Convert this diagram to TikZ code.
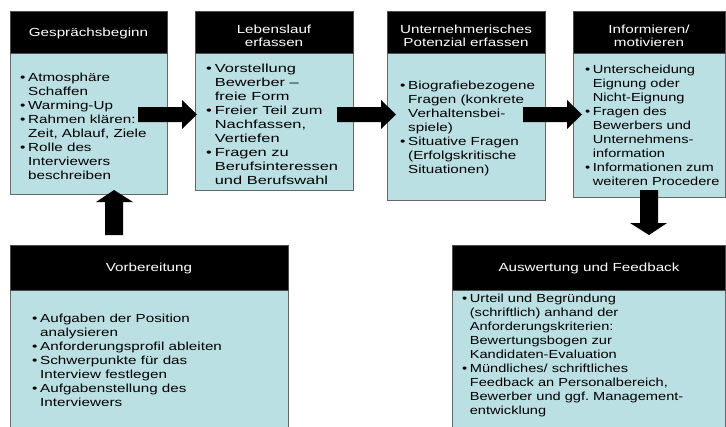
\documentclass[tikz,border=0pt]{standalone}
\usepackage{fontspec}
\setmainfont{Liberation Sans}[FakeStretch=1.3]
\definecolor{bodyblue}{RGB}{187,224,227}
\newcommand{\bl}{\makebox[8pt][l]{•}}
\newcommand{\ind}{\hspace*{8pt}}
\begin{document}
\begin{tikzpicture}[x=1pt,y=-1pt,
  headbox/.style={fill=black,draw=black!70,line width=0.6pt},
  bodybox/.style={fill=bodyblue,draw=black!60,line width=0.7pt},
  headtext/.style={text=white,align=center,font=\fontsize{11.7}{12.7}\selectfont,inner sep=0pt},
  bodytext/.style={align=left,anchor=west,font=\fontsize{11.7}{14}\selectfont,inner sep=0pt},
  blockarrow/.style={fill=black}]
\clip (0,0) rectangle (726,426);
\fill[white] (0,0) rectangle (726,426);
% top row boxes
\draw[bodybox] (10,53) rectangle (167,194);
\draw[headbox] (10,11) rectangle (167,53);
\draw[bodybox] (195,53) rectangle (353,190);
\draw[headbox] (195,11) rectangle (353,53);
\draw[bodybox] (387,53) rectangle (545,200);
\draw[headbox] (387,11) rectangle (545,53);
\draw[bodybox] (573,53) rectangle (725,197);
\draw[headbox] (573,11) rectangle (725,53);
% bottom boxes
\draw[bodybox] (10,290) rectangle (288,432);
\draw[headbox] (10,245) rectangle (288,290);
\draw[bodybox] (452,290) rectangle (725,432);
\draw[headbox] (452,245) rectangle (725,290);
% headers
\node[headtext] (h1) at (88.5,33) {Gesprächsbeginn};
\node[headtext] (h2) at (274,36) {Lebenslauf\\erfassen};
\node[headtext] (h3) at (466,36) {Unternehmerisches\\Potenzial erfassen};
\node[headtext] (h4) at (649,36) {Informieren/\\motivieren};
\node[headtext] (h5) at (149,268) {Vorbereitung};
\node[headtext] (h6) at (589,268) {Auswertung und Feedback};
% bodies
\node[bodytext] (t1) at (20,126) {\bl Atmosphäre\\\ind Schaffen\\\bl Warming-Up\\\bl Rahmen klären:\\\ind Zeit, Ablauf, Ziele\\\bl Rolle des\\\ind Interviewers\\\ind beschreiben};
\node[bodytext,xscale=1.08,transform shape] (t2) at (206,124) {\bl Vorstellung\\\ind Bewerber –\\\ind freie Form\\\bl Freier Teil zum\\\ind Nachfassen,\\\ind Vertiefen\\\bl Fragen zu\\\ind Berufsinteressen\\\ind und Berufswahl};
\node[bodytext] (t3) at (400,128) {\bl Biografiebezogene\\\ind Fragen (konkrete\\\ind Verhaltensbei-\\\ind spiele)\\\bl Situative Fragen\\\ind (Erfolgskritische\\\ind Situationen)};
\node[bodytext,xscale=0.96,transform shape] (t4) at (585,125) {\bl Unterscheidung\\\ind Eignung oder\\\ind Nicht-Eignung\\\bl Fragen des\\\ind Bewerbers und\\\ind Unternehmens-\\\ind information\\\bl Informationen zum\\\ind weiteren Procedere};
\node[bodytext] (t5) at (32,360) {\bl Aufgaben der Position\\\ind analysieren\\\bl Anforderungsprofil ableiten\\\bl Schwerpunkte für das\\\ind Interview festlegen\\\bl Aufgabenstellung des\\\ind Interviewers};
\node[bodytext,xscale=0.96,transform shape] (t6) at (462,355) {\bl Urteil und Begründung\\\ind (schriftlich) anhand der\\\ind Anforderungskriterien:\\\ind Bewertungsbogen zur\\\ind Kandidaten-Evaluation\\\bl Mündliches/ schriftliches\\\ind Feedback an Personalbereich,\\\ind Bewerber und ggf.\ Management-\\\ind entwicklung};
% block arrows
\fill[blockarrow] (138,107) -- (182,107) -- (182,100) -- (197,114.5) -- (182,129) -- (182,122) -- (138,122) -- cycle;
\fill[blockarrow] (337,107) -- (381,107) -- (381,100) -- (396,114.5) -- (381,129) -- (381,122) -- (337,122) -- cycle;
\fill[blockarrow] (523,107) -- (567,107) -- (567,100) -- (582,114.5) -- (567,129) -- (567,122) -- (523,122) -- cycle;
\fill[blockarrow] (105,235) -- (105,202) -- (96,202) -- (114,190) -- (133,202) -- (123,202) -- (123,235) -- cycle;
\fill[blockarrow] (640,190) -- (658,190) -- (658,223) -- (667,223) -- (649,235) -- (630,223) -- (640,223) -- cycle;
\end{tikzpicture}
\end{document}
